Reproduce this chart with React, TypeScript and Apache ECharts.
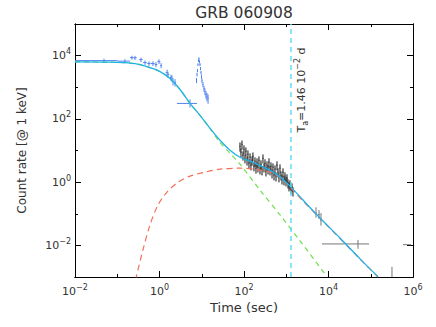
import { useEffect, useRef } from 'react';
import * as echarts from 'echarts';

const chartTitle = 'GRB 060908';
const xName = 'Time (sec)';
const yName = 'Count rate [@ 1 keV]';
const breakTime = 1261; // s  (T_a = 1.46e-2 d)
const xMin = 0.01;
const xMax = 1e6;
const yMin = 1e-3;
const yMax = 1e5;

// model curves [time (s), rate]
const totalModel: [number, number][] = [
  [0.01, 6340], [0.0673, 6200], [0.2, 5800], [0.345, 5210], [0.596, 4190], [1.03, 3130],
  [1.77, 1890], [3.06, 850], [5.27, 308], [9.09, 129], [15.7, 50.2], [27.0, 21.0],
  [46.6, 10.2], [80.4, 6.12], [182, 3.96], [542, 1.92], [1228, 0.748], [2490, 0.271],
  [6300, 0.0734], [18700, 0.0172], [58700, 0.00349], [148600, 0.00102],
];
const promptModel: [number, number][] = [
  [0.01, 6340], [0.0673, 6200], [0.2, 5800], [0.345, 5210], [0.596, 4190], [1.03, 3130],
  [1.77, 1890], [3.06, 850], [5.27, 308], [9.09, 129], [15.7, 49.5], [27.0, 18.2],
  [46.6, 8.18], [80.4, 3.69], [239, 0.56], [712, 0.0914], [2115, 0.0139], [9210, 0.00102],
];
const afterglowModel: [number, number][] = [
  [0.27, 0.0008], [0.406, 0.00721], [0.596, 0.0443], [0.921, 0.189], [1.51, 0.484], [2.74, 1.0],
  [5.27, 1.55], [11.9, 2.07], [27.0, 2.57], [80.4, 2.76], [239, 2.39], [542, 1.79],
  [1228, 0.697], [2490, 0.252], [6300, 0.072], [58700, 0.00345], [148600, 0.001],
];

// BAT points [t, tLo, tHi, rate, rateLo, rateHi]
const batPoints: number[][] = [
  [0.0486, 0.01, 0.1, 6960, 6000, 8000],
  [0.152, 0.1, 0.2, 6700, 5800, 7700],
  [0.223, 0.2, 0.245, 8650, 7400, 9900],
  [0.263, 0.245, 0.29, 8500, 7300, 9800],
  [0.365, 0.33, 0.4, 7480, 6300, 8700],
  [0.454, 0.41, 0.5, 6020, 5100, 7000],
  [0.564, 0.51, 0.62, 5600, 4700, 6600],
  [0.701, 0.63, 0.77, 5600, 4700, 6600],
  [0.826, 0.77, 0.89, 5210, 4300, 6200],
  [0.973, 0.89, 1.05, 6470, 5400, 7600],
  [1.09, 1.05, 1.15, 4840, 4000, 5800],
  [1.51, 1.4, 1.55, 2920, 2300, 3600],
  [1.59, 1.55, 1.7, 2520, 2000, 3100],
  [1.87, 1.75, 1.93, 2030, 1600, 2500],
  [1.98, 1.93, 2.03, 1890, 1450, 2350],
  [2.09, 2.03, 2.2, 1520, 1150, 1900],
  [2.33, 2.2, 2.45, 1410, 1050, 1800],
  [5.27, 2.59, 7.73, 308, 230, 411],
  [7.52, 7.4, 7.63, 1630, 1350, 1950],
  [7.73, 7.63, 7.83, 2520, 2200, 2850],
  [7.93, 7.83, 8.04, 3370, 3000, 3750],
  [8.15, 8.04, 8.26, 5210, 4700, 5750],
  [8.38, 8.26, 8.5, 6970, 6300, 7650],
  [8.61, 8.5, 8.73, 8050, 7300, 8800],
  [8.85, 8.73, 8.97, 6470, 5800, 7150],
  [9.09, 8.97, 9.21, 5210, 4650, 5800],
  [9.34, 9.21, 9.47, 3900, 3450, 4350],
  [9.6, 9.47, 9.73, 2920, 2550, 3300],
  [9.87, 9.73, 10.0, 2180, 1850, 2500],
  [10.1, 10.0, 10.4, 1630, 1350, 1900],
  [10.7, 10.4, 11.0, 1220, 1000, 1450],
  [11.3, 11.0, 11.6, 914, 720, 1100],
  [11.9, 11.6, 12.2, 735, 560, 910],
  [12.6, 12.2, 12.9, 591, 430, 750],
  [13.3, 12.9, 13.7, 512, 360, 660],
  [14.1, 13.7, 14.5, 443, 300, 590],
];

// XRT (window timing) points
const xrtTime = [
  80.4, 84.9, 89.6, 94.6, 99.9, 105.5, 111, 118, 124, 131, 139, 146, 155, 163, 172, 182, 192, 203,
  214, 226, 239, 252, 267, 281, 297, 314, 331, 350, 370, 390, 412, 435, 460, 485, 513, 541, 572,
  604, 637, 673, 711, 751, 793, 837, 884, 933, 986, 1041, 1099, 1161, 1226, 1294, 1367, 1443,
];
const xrtRate = [
  13.6, 8.83, 15.7, 7.1, 11.0, 5.71, 9.49, 4.94, 7.64, 3.97, 6.14, 3.44, 4.94, 6.6, 3.2, 4.59, 2.76,
  4.27, 2.97, 4.94, 2.57, 3.69, 2.39, 5.71, 2.97, 3.97, 2.22, 3.44, 2.57, 4.27, 2.39, 3.2, 1.92,
  2.97, 1.66, 2.57, 1.55, 3.44, 2.07, 1.44, 2.76, 1.66, 1.24, 2.07, 1.16, 1.55, 1.08, 1.34, 0.93,
  0.748, 0.865, 0.602, 0.696, 0.52,
];
const xrtErr = [
  4.4, 2.8, 5.0, 2.3, 3.5, 1.8, 3.0, 1.6, 2.4, 1.3, 2.0, 1.1, 1.6, 2.1, 1.0, 1.5, 0.9, 1.4, 0.95,
  1.6, 0.82, 1.2, 0.76, 1.8, 0.95, 1.3, 0.71, 1.1, 0.82, 1.4, 0.76, 1.0, 0.61, 0.95, 0.53, 0.82,
  0.5, 1.1, 0.66, 0.46, 0.88, 0.53, 0.4, 0.66, 0.37, 0.5, 0.35, 0.43, 0.3, 0.24, 0.28, 0.19, 0.22,
  0.17,
];
// late XRT points [t, tLo, tHi, rate, rateLo, rateHi]
const xrtLatePoints: number[][] = [
  [5060, 4850, 5250, 0.105, 0.075, 0.16],
  [5960, 5700, 6200, 0.095, 0.068, 0.13],
  [6640, 6300, 6950, 0.0635, 0.042, 0.105],
  [49900, 7010, 91000, 0.0111, 0.0078, 0.0149],
  [318000, 318000, 318000, 0.0013, 0.001, 0.0021],
  [721000, 580000, 897000, 0.0105, 0.0105, 0.0105],
];

const FONT = '"DejaVu Sans", "Liberation Sans", sans-serif';
const INK = '#333';

function xrtPoints(): number[][] {
  return xrtTime.map((t, i) => {
    const prev = i > 0 ? xrtTime[i - 1] : t * t / xrtTime[i + 1];
    const next = i < xrtTime.length - 1 ? xrtTime[i + 1] : t * t / xrtTime[i - 1];
    return [t, Math.sqrt(prev * t), Math.sqrt(t * next), xrtRate[i], xrtRate[i] - xrtErr[i], xrtRate[i] + xrtErr[i]];
  });
}

function crossRenderer(color: string, width: number) {
  return (_params: any, api: any) => {
    const t = api.value(0), tl = api.value(1), th = api.value(2);
    const r = api.value(3), rl = api.value(4), rh = api.value(5);
    const a = api.coord([tl, r]);
    const b = api.coord([th, r]);
    const c = api.coord([t, rl]);
    const d = api.coord([t, rh]);
    const style = { stroke: color, lineWidth: width };
    return {
      type: 'group',
      children: [
        { type: 'line', shape: { x1: a[0], y1: a[1], x2: b[0], y2: b[1] }, style },
        { type: 'line', shape: { x1: c[0], y1: c[1], x2: d[0], y2: d[1] }, style },
      ],
    };
  };
}

function expLabel(v: number): string {
  const e = Math.round(Math.log10(v));
  if (e % 2 !== 0) return '';
  return `{b|10}{s|${e < 0 ? '\u2212' + -e : e}}`;
}

const labelRich = {
  b: { fontSize: 11, fontFamily: FONT, color: INK, lineHeight: 16 },
  s: { fontSize: 8, fontFamily: FONT, color: INK, lineHeight: 10, verticalAlign: 'top' },
};

function makeAxis(kind: 'x' | 'y', position: string, base: number, major: boolean, labels: boolean, extra: any = {}) {
  return {
    type: 'log',
    logBase: base,
    position,
    min: kind === 'x' ? xMin : yMin,
    max: kind === 'x' ? xMax : yMax,
    axisLine: { show: true, onZero: false, lineStyle: { color: '#000', width: 1 } },
    axisTick: { show: true, inside: true, length: major ? 6 : 3, lineStyle: { color: '#000', width: 1 } },
    axisLabel: labels
      ? { show: true, formatter: expLabel, rich: labelRich, margin: kind === 'x' ? 6 : 4 }
      : { show: false },
    splitLine: { show: false },
    minorTick: { show: false },
    ...extra,
  };
}

export default function App() {
  const ref = useRef<HTMLDivElement>(null);
  useEffect(() => {
    document.body.style.margin = '0';
    const chart = echarts.init(ref.current!, undefined, { renderer: 'svg' });
    chart.setOption({
      animation: false,
      backgroundColor: '#fff',
      textStyle: { fontFamily: FONT },
      grid: { left: 75, right: 23, top: 24, bottom: 50, containLabel: false, outerBoundsMode: 'none' },
      xAxis: [
        makeAxis('x', 'bottom', 10, false, false),
        makeAxis('x', 'bottom', 100, true, true, {
          name: xName,
          nameLocation: 'middle',
          nameGap: 24,
          nameTextStyle: { fontSize: 13, fontFamily: FONT, color: INK },
        }),
        makeAxis('x', 'top', 10, false, false),
        makeAxis('x', 'top', 100, true, false),
      ],
      yAxis: [
        makeAxis('y', 'left', 10, false, false),
        makeAxis('y', 'left', 100, true, true, {
          name: yName,
          nameLocation: 'middle',
          nameGap: 47,
          nameRotate: 90,
          nameTextStyle: { fontSize: 12, fontFamily: FONT, color: INK },
        }),
        makeAxis('y', 'right', 10, false, false),
        makeAxis('y', 'right', 100, true, false),
      ],
      graphic: [
        {
          type: 'text',
          x: 244,
          y: 13,
          style: {
            text: chartTitle,
            font: `15.5px ${FONT}`,
            fill: INK,
            align: 'center',
            verticalAlign: 'middle',
            textAlign: 'center',
            textVerticalAlign: 'middle',
          },
        },
        {
          type: 'text',
          x: 301,
          y: 90,
          rotation: Math.PI / 2,
          style: {
            text: 'T{sub|a}=1.46 10{sup|\u22122} d',
            font: `11px ${FONT}`,
            fill: INK,
            align: 'center',
            verticalAlign: 'middle',
            textAlign: 'center',
            textVerticalAlign: 'middle',
            rich: {
              sub: { fontSize: 8, fontFamily: FONT, fill: INK, lineHeight: 10, verticalAlign: 'bottom' },
              sup: { fontSize: 8, fontFamily: FONT, fill: INK, lineHeight: 10, verticalAlign: 'top' },
            },
            lineHeight: 16,
          },
        },
      ],
      series: [
        {
          type: 'line',
          name: 'prompt',
          xAxisIndex: 0,
          yAxisIndex: 0,
          data: promptModel,
          showSymbol: false,
          smooth: 0.3,
          silent: true,
          lineStyle: { color: '#6fe04c', width: 1.2, type: [5, 4] },
          markLine: {
            silent: true,
            symbol: 'none',
            label: { show: false },
            lineStyle: { color: '#66dcf5', width: 1.5, type: [5, 4] },
            data: [{ xAxis: breakTime }],
          },
        },
        {
          type: 'line',
          name: 'afterglow',
          xAxisIndex: 0,
          yAxisIndex: 0,
          data: afterglowModel,
          showSymbol: false,
          smooth: 0.3,
          silent: true,
          lineStyle: { color: '#f3715c', width: 1.2, type: [6, 4] },
        },
        {
          type: 'custom',
          name: 'BAT',
          xAxisIndex: 0,
          yAxisIndex: 0,
          data: batPoints,
          encode: { x: [0, 1, 2], y: [3, 4, 5] },
          renderItem: crossRenderer('#4f83f0', 1),
          clip: true,
          silent: true,
        },
        {
          type: 'custom',
          name: 'XRT',
          xAxisIndex: 0,
          yAxisIndex: 0,
          data: xrtPoints(),
          encode: { x: [0, 1, 2], y: [3, 4, 5] },
          renderItem: crossRenderer('#151515', 1),
          clip: true,
          silent: true,
        },
        {
          type: 'custom',
          name: 'XRT late',
          xAxisIndex: 0,
          yAxisIndex: 0,
          data: xrtLatePoints,
          encode: { x: [0, 1, 2], y: [3, 4, 5] },
          renderItem: crossRenderer('#777', 1),
          clip: true,
          silent: true,
        },
        {
          type: 'line',
          name: 'total',
          xAxisIndex: 0,
          yAxisIndex: 0,
          data: totalModel,
          showSymbol: false,
          smooth: 0.3,
          silent: true,
          lineStyle: { color: '#1fb2e6', width: 1.3 },
        },
      ],
    });
    return () => chart.dispose();
  }, []);
  return <div ref={ref} style={{ width: 436, height: 327 }} />;
}
